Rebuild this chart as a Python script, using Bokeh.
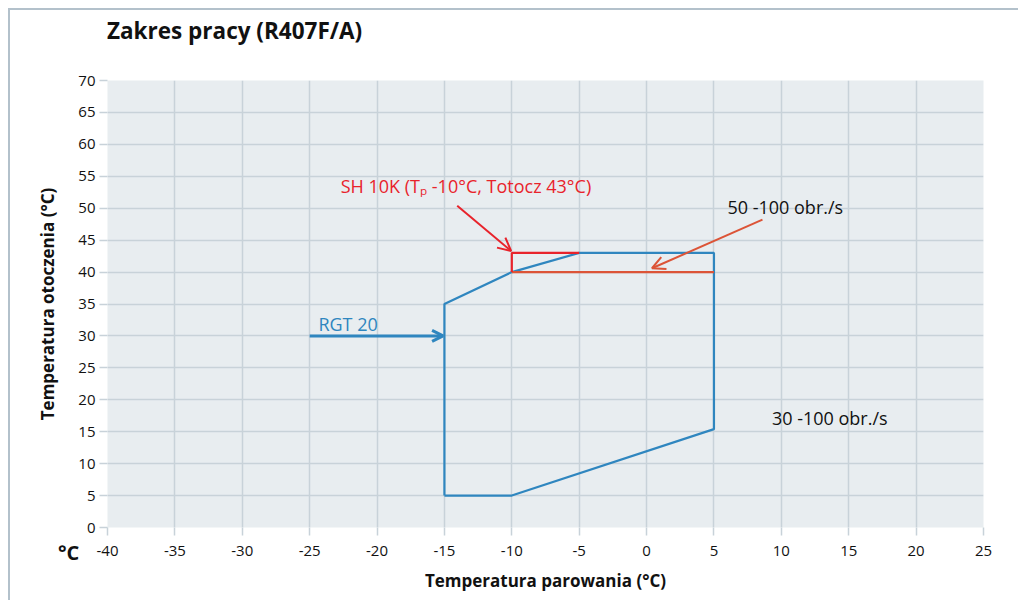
from bokeh.plotting import figure
from bokeh.models import (FixedTicker, Arrow, OpenHead, Label, Div)
from bokeh.layouts import column
from bokeh.embed import file_html
from bokeh.resources import INLINE

# ---- data ----
x_ticks = [-40, -35, -30, -25, -20, -15, -10, -5, 0, 5, 10, 15, 20, 25]
x_tick_labels = ["-40", "-35", "-30", "-25", "-20", "-15", "-10", "-5", "0", "5", "10", "15", "20", "25"]
y_ticks = [0, 5, 10, 15, 20, 25, 30, 35, 40, 45, 50, 55, 60, 65, 70]
y_tick_labels = ["0", "5", "10", "15", "20", "25", "30", "35", "40", "45", "50", "55", "60", "65", "70"]

# operating envelope 30-100 obr./s
env_x = [-15, -10, 5, 5, -5, -10, -15, -15]
env_y = [5, 5, 15.4, 43, 43, 40, 35, 5]

# SH 10K box (red)
sh_x = [-10, -10, -5]
sh_y = [40, 43, 43]

# 50-100 obr./s limit (orange-red)
lim_x = [-10, 5]
lim_y = [40, 40]

# arrows (start x, start y, end x, end y)
arrow_sh = (-14.05, 50.4, -10.05, 43.3)
arrow_50 = (8.6, 48.2, 0.4, 40.6)
arrow_rgt = (-25, 30, -15.1, 30)

# labels
title_text = "Zakres pracy (R407F/A)"
unit_text = "°C"
txt_sh = ("SH 10K (Tₚ -10°C, Totocz 43°C)", -22.7, 53.5)
txt_50 = ("50 -100 obr./s", 6.0, 50.2)
txt_30 = ("30 -100 obr./s", 9.3, 17.2)
txt_rgt = ("RGT 20", -24.35, 31.8)

FONT = "Open Sans"
BLUE = "#2f86bf"
RED = "#e8232b"
ORANGE = "#dc5437"
GRID = "#c8d2d9"

title_div = Div(text=title_text, margin=0,
                styles={"position": "absolute", "left": "97px", "top": "6px",
                        "font-family": FONT, "font-size": "22.5px", "font-weight": "bold",
                        "color": "#111111", "z-index": "10", "line-height": "30px",
                        "white-space": "nowrap"})

unit_div = Div(text=unit_text, margin=0,
               styles={"position": "absolute", "left": "48px", "top": "529px",
                       "font-family": FONT, "font-size": "20px", "font-weight": "bold",
                       "color": "#111111", "z-index": "10", "line-height": "27px"})

p = figure(width=1008, height=590, x_range=(-40, 25), y_range=(0, 70),
           output_backend="svg", toolbar_location=None,
           min_border_left=97, min_border_right=35,
           min_border_top=70, min_border_bottom=73)
p.margin = 0

p.background_fill_color = "#e8edf0"
p.border_fill_color = "white"
p.outline_line_color = None

p.xaxis.ticker = FixedTicker(ticks=x_ticks)
p.yaxis.ticker = FixedTicker(ticks=y_ticks)
p.xaxis.major_label_overrides = dict(zip(x_ticks, x_tick_labels))
p.yaxis.major_label_overrides = dict(zip(y_ticks, y_tick_labels))
for ax in (p.xaxis[0], p.yaxis[0]):
    ax.axis_line_color = None
    ax.major_tick_line_color = GRID
    ax.major_tick_line_width = 1.5
    ax.major_tick_in = 0
    ax.major_tick_out = 8
    ax.minor_tick_line_color = None
    ax.major_label_text_font = FONT
    ax.major_label_text_font_size = "15px"
    ax.major_label_text_color = "#111111"
    ax.axis_label_text_font = FONT
    ax.axis_label_text_font_size = "17px"
    ax.axis_label_text_font_style = "bold"
    ax.axis_label_text_color = "#111111"

p.xaxis.axis_label = "Temperatura parowania (°C)"
p.yaxis.axis_label = "Temperatura otoczenia (°C)"
p.xaxis.major_label_standoff = 10
p.yaxis.major_label_standoff = 4
p.xaxis.axis_label_standoff = 10
p.yaxis.axis_label_standoff = 16

p.grid.grid_line_color = GRID
p.grid.grid_line_width = 1.5

p.line(env_x, env_y, line_color=BLUE, line_width=2.2)
p.line(lim_x, lim_y, line_color=ORANGE, line_width=2.2)
p.line(sh_x, sh_y, line_color=RED, line_width=2.2)

def add_arrow(a, color, width, size):
    p.add_layout(Arrow(x_start=a[0], y_start=a[1], x_end=a[2], y_end=a[3],
                       line_color=color, line_width=width,
                       end=OpenHead(size=size, line_color=color, line_width=width)))

add_arrow(arrow_sh, RED, 2, 13)
add_arrow(arrow_50, ORANGE, 2, 13)
add_arrow(arrow_rgt, BLUE, 3, 11)

def add_text(t, color):
    p.add_layout(Label(x=t[1], y=t[2], text=t[0], text_color=color,
                       text_font=FONT, text_font_size="18px",
                       text_baseline="middle", text_align="left"))

add_text(txt_sh, RED)
add_text(txt_50, "#111111")
add_text(txt_30, "#111111")
add_text(txt_rgt, BLUE)

layout = column(p, title_div, unit_div, spacing=0)
layout.margin = (8, 0, 0, 8)
layout.styles = {"border-top": "2px solid #b3c1cb", "border-left": "2px solid #b3c1cb",
                 "position": "relative"}

open("out.html", "w").write(file_html(layout, INLINE))
